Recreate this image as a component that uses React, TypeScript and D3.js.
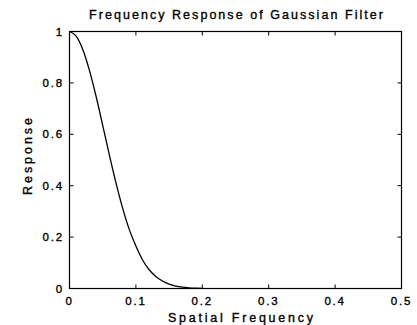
import React from "react";
import * as d3 from "d3";

const title = "Frequency Response of Gaussian Filter";
const xLabel = "Spatial Frequency";
const yLabel = "Response";

const frequency = [
  0, 0.01, 0.02, 0.03, 0.04, 0.05, 0.06, 0.07, 0.08, 0.09, 0.1,
  0.11, 0.12, 0.13, 0.14, 0.15, 0.16, 0.17, 0.18, 0.19, 0.2,
];
const response = [
  1, 0.982, 0.93, 0.849, 0.748, 0.635, 0.52, 0.411, 0.313, 0.23, 0.165,
  0.111, 0.073, 0.047, 0.029, 0.017, 0.0096, 0.0052, 0.0028, 0.0014, 0.0007,
];
const xTicks = [0, 0.1, 0.2, 0.3, 0.4, 0.5];
const xTickLabels = ["0", "0.1", "0.2", "0.3", "0.4", "0.5"];
const yTicks = [0, 0.2, 0.4, 0.6, 0.8, 1];
const yTickLabels = ["0", "0.2", "0.4", "0.6", "0.8", "1"];

const W = 417;
const H = 325;
const left = 69.5;
const right = 401.5;
const top = 31.5;
const bottom = 288.5;
const font = "'Liberation Sans', Arial, Helvetica, sans-serif";

export default function App() {
  const x = d3.scaleLinear().domain([0, 0.5]).range([left, right]);
  const y = d3.scaleLinear().domain([0, 1]).range([bottom, top]);
  const pts: [number, number][] = frequency.map((f, i) => [f, response[i]]);
  const line = d3
    .line<[number, number]>()
    .x((d) => x(d[0]))
    .y((d) => y(d[1]))
    .curve(d3.curveMonotoneX);
  const tickLen = 4;
  const textStroke = { stroke: "#000", strokeWidth: 0.35 };
  return (
    <svg
      width={W}
      height={H}
      style={{ position: "absolute", left: 0, top: 0, background: "#fff" }}
    >
      <rect x={0} y={0} width={W} height={H} fill="#fff" />
      <path d={line(pts) || ""} fill="none" stroke="#000" strokeWidth={1.3} />
      <rect
        x={left}
        y={top}
        width={right - left}
        height={bottom - top}
        fill="none"
        stroke="#000"
        strokeWidth={1.2}
      />
      {xTicks.map((t, i) => (
        <g key={"x" + i}>
          <line x1={x(t)} x2={x(t)} y1={bottom} y2={bottom - tickLen} stroke="#000" />
          <line x1={x(t)} x2={x(t)} y1={top} y2={top + tickLen} stroke="#000" />
          <text
            x={x(t)}
            y={305}
            textAnchor="middle"
            fontFamily={font}
            fontSize={11.5}
            letterSpacing={1.8}
            fill="#000"
            {...textStroke}
          >
            {xTickLabels[i]}
          </text>
        </g>
      ))}
      {yTicks.map((t, i) => (
        <g key={"y" + i}>
          <line x1={left} x2={left + tickLen} y1={y(t)} y2={y(t)} stroke="#000" />
          <line x1={right} x2={right - tickLen} y1={y(t)} y2={y(t)} stroke="#000" />
          <text
            x={64}
            y={y(t)}
            dy="0.35em"
            textAnchor="end"
            fontFamily={font}
            fontSize={11.5}
            letterSpacing={1.8}
            fill="#000"
            {...textStroke}
          >
            {yTickLabels[i]}
          </text>
        </g>
      ))}
      <text
        x={89}
        y={19}
        textLength={294}
        lengthAdjust="spacing"
        fontFamily={font}
        fontSize={12.5}
        fill="#000"
        {...textStroke}
      >
        {title}
      </text>
      <text
        x={168}
        y={321.5}
        textLength={145}
        lengthAdjust="spacing"
        fontFamily={font}
        fontSize={12.5}
        fill="#000"
        {...textStroke}
      >
        {xLabel}
      </text>
      <text
        transform={`translate(32,195) rotate(-90)`}
        textLength={77}
        lengthAdjust="spacing"
        fontFamily={font}
        fontSize={12.5}
        fill="#000"
        {...textStroke}
      >
        {yLabel}
      </text>
    </svg>
  );
}
